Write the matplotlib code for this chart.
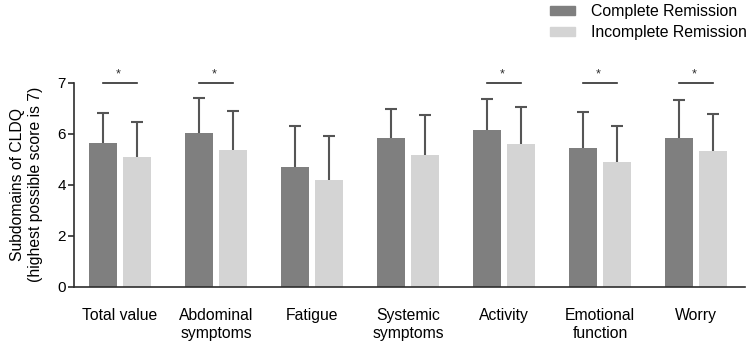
import matplotlib
matplotlib.use("Agg")
import matplotlib.pyplot as plt
import numpy as np
from matplotlib.patches import Patch

plt.rcParams['font.family'] = ['Liberation Sans', 'DejaVu Sans']

categories = ["Total value", "Abdominal\nsymptoms", "Fatigue", "Systemic\nsymptoms",
              "Activity", "Emotional\nfunction", "Worry"]
series_names = ["Complete Remission", "Incomplete Remission"]
complete_mean = [5.65, 6.02, 4.69, 5.83, 6.13, 5.43, 5.82]
complete_sd = [1.17, 1.40, 1.61, 1.14, 1.24, 1.41, 1.49]
incomplete_mean = [5.07, 5.35, 4.18, 5.15, 5.60, 4.88, 5.32]
incomplete_sd = [1.39, 1.55, 1.74, 1.58, 1.46, 1.41, 1.46]
significant = [True, True, False, False, True, True, True]
ytick_values = [0, 2, 4, 6, 8]
ytick_labels = ["0", "2", "4", "6", "7"]

dark = "#7f7f7f"
light = "#d4d4d4"
errc = "#555555"
axc = "#2e2e2e"

fig = plt.figure(figsize=(7.55, 3.49), dpi=100)
ax = fig.add_axes([0.098, 0.178, 0.889, 0.585])

x = np.arange(len(categories))
w = 0.29
off = 0.175
for xs, means, sds, col in [(x - off, complete_mean, complete_sd, dark),
                            (x + off, incomplete_mean, incomplete_sd, light)]:
    means = np.array(means)
    tops = means + np.array(sds)
    ax.vlines(xs, means, tops, color=errc, lw=1.5, zorder=1)
    ax.plot(xs, tops, ls='none', marker='_', markersize=9, mew=1.5, color=errc, zorder=1)
    ax.bar(xs, means, w, color=col, zorder=2)

for i, s in enumerate(significant):
    if s:
        ax.plot([i - off, i + off], [7.97, 7.97], color=axc, lw=1.2, clip_on=False)
        ax.text(i - 0.02, 8.08, "*", ha='center', va='bottom', fontsize=9, color=axc, clip_on=False)

ax.set_xlim(-0.48, 6.51)
ax.set_ylim(0, 8)
ax.set_yticks(ytick_values)
ax.set_yticklabels(ytick_labels, fontsize=11)
ax.set_xticks(x)
ax.set_xticklabels(categories, fontsize=11.3, va='top', linespacing=1.3)
ax.tick_params(axis='x', length=0, pad=15)
ax.tick_params(axis='y', length=4, width=1.2, color=axc, pad=2)
for sp in ['top', 'right']:
    ax.spines[sp].set_visible(False)
for sp in ['left', 'bottom']:
    ax.spines[sp].set_color(axc)
    ax.spines[sp].set_linewidth(1.2)
ax.set_ylabel("Subdomains of CLDQ\n(highest possible score is 7)", fontsize=11.3, labelpad=10,
              linespacing=1.3)

handles = [Patch(color=dark), Patch(color=light)]
fig.legend(handles, series_names, loc='upper right', bbox_to_anchor=(1.008, 1.03),
           frameon=False, fontsize=11.4, handlelength=1.6, handleheight=0.5,
           handletextpad=1.0, labelspacing=0.42)

fig.savefig("out.png", dpi=100)
